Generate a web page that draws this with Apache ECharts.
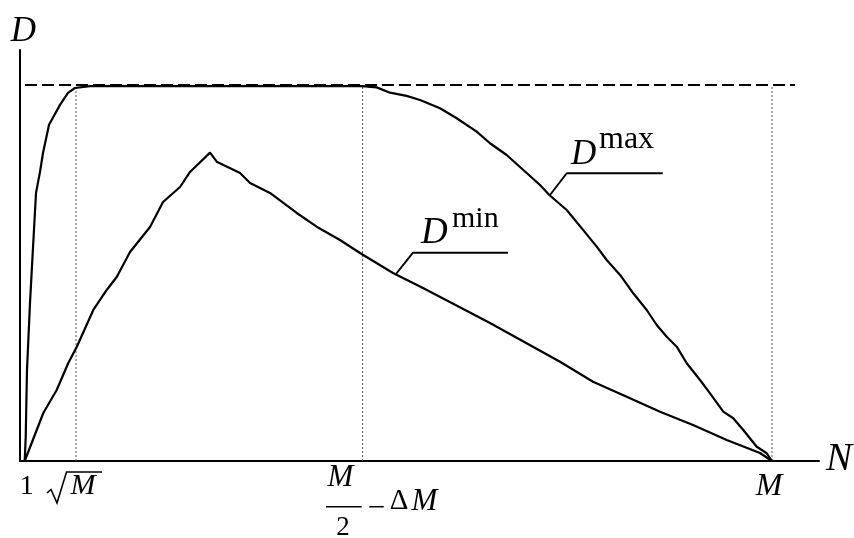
<!DOCTYPE html>
<html>
<head>
<meta charset="utf-8">
<script src="https://cdn.jsdelivr.net/npm/echarts@6/dist/echarts.min.js"></script>
<style>
html,body{margin:0;padding:0;background:#fff;}
#c{width:854px;height:538px;}
</style>
</head>
<body>
<div id="c"></div>
<script>
// x in units of M, y in units of the D plateau
const dMax = [
  [0.00625,0],[0.0076,0.0638],[0.0093,0.242],[0.0133,0.420],[0.0169,0.553],[0.0213,0.713],
  [0.0266,0.769],[0.0306,0.819],[0.0386,0.894],[0.0532,0.947],[0.0638,0.979],[0.0731,0.992],
  [0.0931,0.997],[0.4548,0.997],[0.4743,0.9936],[0.492,0.9795],[0.514,0.971],[0.532,0.960],
  [0.5585,0.938],[0.5807,0.9114],[0.6073,0.8758],[0.625,0.845],[0.6472,0.8138],[0.6693,0.774],
  [0.6915,0.734],[0.7039,0.7074],[0.727,0.6676],[0.749,0.614],[0.7669,0.570],[0.7802,0.5346],
  [0.798,0.4947],[0.8155,0.446],[0.8334,0.4016],[0.8467,0.3617],[0.86,0.3306],[0.8733,0.304],
  [0.8866,0.2598],[0.9043,0.2154],[0.9176,0.18],[0.9352,0.1311],[0.9485,0.1136],[0.9618,0.0824],
  [0.9797,0.038],[0.993,0.0205],[1.0,0]
];
const dMin = [
  [0.00625,0],[0.031,0.1277],[0.0488,0.1888],[0.0642,0.2606],[0.0754,0.3032],[0.0975,0.4016],
  [0.1153,0.4548],[0.1286,0.4894],[0.1463,0.5559],[0.1729,0.6223],[0.1902,0.6888],[0.2128,0.7287],
  [0.2261,0.7686],[0.2527,0.820],[0.2616,0.796],[0.2926,0.766],[0.3059,0.7394],[0.3324,0.7128],
  [0.368,0.6596],[0.3945,0.6231],[0.4255,0.5878],[0.4521,0.5532],[0.496,0.5],[0.5359,0.4601],
  [0.625,0.367],[0.7181,0.2641],[0.762,0.2109],[0.8068,0.171],[0.8511,0.1311],[0.895,0.0957],
  [0.9398,0.0559],[0.984,0.0213],[1.0,0]
];
const plateau = [[0.0066,1],[1.0306,1]];
const guideX = [0.0745, 0.4555, 1.0];
const guideTop = [0.992, 1.0, 1.0];
const leaderMax = [[0.7048,0.7074],[0.727,0.7652],[0.8547,0.7652]];
const leaderMin = [[0.5,0.4973],[0.5226,0.554],[0.6489,0.554]];
const xMax = 1.0625, yMax = 1.093;

const F = '"Liberation Serif","Times New Roman",serif';
function txt(s, x, y, size, italic, align){
  return {type:'text', silent:true, style:{text:s, x:x, y:y, fill:'#000',
    font:(italic?'italic ':'')+size+'px '+F, textAlign:align||'left', textVerticalAlign:'middle'}};
}

const chart = echarts.init(document.getElementById('c'), null, {renderer:'canvas'});
const base = {type:'line', symbol:'none', silent:true, animation:false};
const series = [
  Object.assign({}, base, {data:dMax, lineStyle:{color:'#000', width:2.2}}),
  Object.assign({}, base, {data:dMin, lineStyle:{color:'#000', width:2.2}}),
  Object.assign({}, base, {data:plateau, lineStyle:{color:'#000', width:2, type:[12,5]}}),
  Object.assign({}, base, {data:leaderMax, lineStyle:{color:'#000', width:2}}),
  Object.assign({}, base, {data:leaderMin, lineStyle:{color:'#000', width:2}})
];
guideX.forEach((gx,i)=>{
  series.push(Object.assign({}, base, {data:[[gx,0],[gx,guideTop[i]]], z:1,
    lineStyle:{color:'#555', width:1, type:[2,2]}}));
});

chart.setOption({
  backgroundColor:'#fff',
  animation:false,
  grid:{left:20, right:35, top:50, bottom:77},
  xAxis:{type:'value', min:0, max:xMax, axisLine:{show:true, onZero:false, lineStyle:{color:'#000', width:2}},
    axisTick:{show:false}, axisLabel:{show:false}, splitLine:{show:false}},
  yAxis:{type:'value', min:0, max:yMax, axisLine:{show:true, onZero:false, lineStyle:{color:'#000', width:2}},
    axisTick:{show:false}, axisLabel:{show:false}, splitLine:{show:false}},
  series: series,
  graphic:[
    txt('D', 23.5, 32, 35, true, 'center'),
    txt('N', 826, 459.5, 39, true, 'left'),
    txt('1', 26.7, 487, 28, false, 'center'),
    {type:'polyline', silent:true, shape:{points:[[47,493],[51,489.5],[57,503],[66.5,472],[102,472]]},
      style:{stroke:'#000', lineWidth:1.6, fill:null}},
    txt('M', 83, 486.5, 30, true, 'center'),
    txt('M', 340.5, 478, 31, true, 'center'),
    {type:'line', silent:true, shape:{x1:326, y1:506.7, x2:361.7, y2:506.7}, style:{stroke:'#000', lineWidth:1.4}},
    txt('2', 343, 527.5, 27, false, 'center'),
    txt('\u2212', 376.5, 509, 31, false, 'center'),
    txt('\u0394', 399, 501.5, 29, false, 'center'),
    txt('M', 424.5, 501.5, 31, true, 'center'),
    txt('M', 769, 486.5, 32, true, 'center'),
    txt('D', 571, 155, 35, true, 'left'),
    txt('max', 599, 139.5, 32, false, 'left'),
    txt('D', 421, 233, 37, true, 'left'),
    txt('min', 452, 218.8, 30, false, 'left')
  ]
});
</script>
</body>
</html>
